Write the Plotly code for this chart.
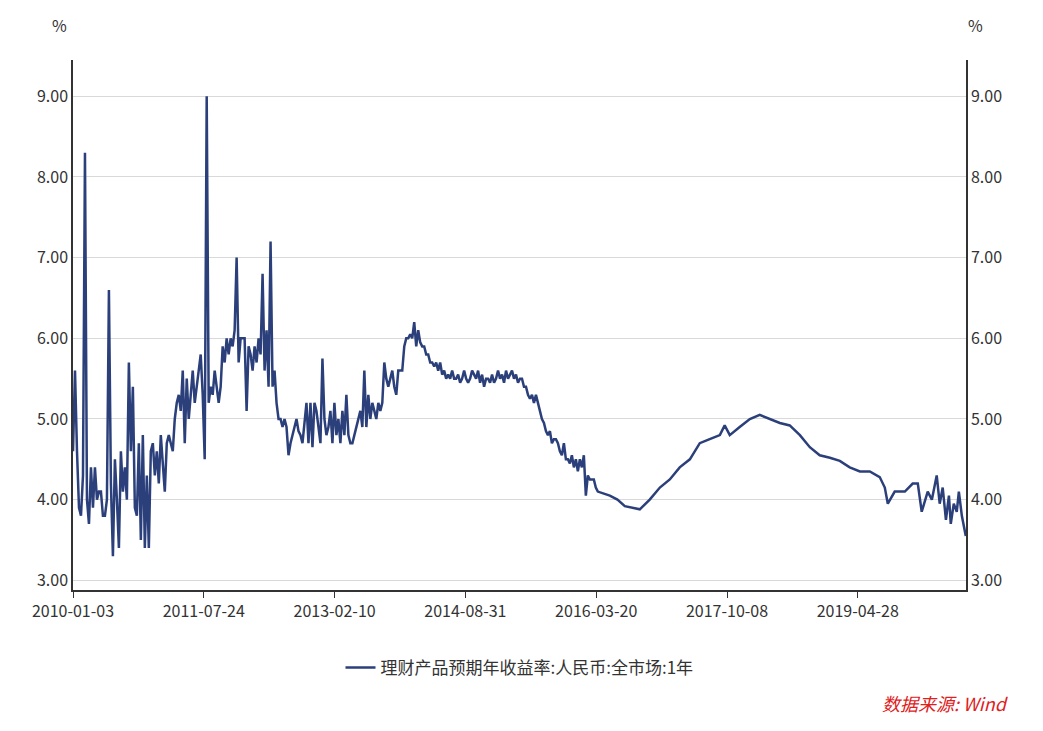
import pandas as pd
import plotly.graph_objects as go

# weekly-ish readings 2010-01-03 .. 2016-03-27, evenly spaced
seg1_vals = [
    4.6, 5.6, 4.6, 3.9, 3.8, 4.3, 8.3, 4.0, 3.7, 4.4, 3.9, 4.4, 4.0, 4.1, 4.1, 3.8, 3.8, 4.0, 6.6, 4.2,
    3.3, 4.5, 4.0, 3.4, 4.6, 4.1, 4.4, 4.0, 5.7, 4.6, 5.4, 3.9, 3.8, 4.7, 3.5, 4.8, 3.4, 4.3, 3.4, 4.6,
    4.7, 4.3, 4.6, 4.2, 4.8, 4.5, 4.1, 4.7, 4.8, 4.7, 4.6, 5.0, 5.2, 5.3, 5.1, 5.6, 4.7, 5.5, 5.0, 5.3,
    5.6, 5.2, 5.4, 5.6, 5.8, 5.3, 4.5, 9.0, 5.2, 5.4, 5.3, 5.6, 5.4, 5.2, 5.4, 5.9, 5.7, 6.0, 5.8, 6.0,
    5.9, 6.1, 7.0, 5.7, 6.0, 6.0, 6.0, 5.1, 5.9, 5.8, 5.6, 5.9, 5.7, 6.0, 5.8, 6.8, 5.6, 6.1, 5.4, 7.2,
    5.4, 5.6, 5.2, 5.0, 5.0, 4.9, 5.0, 4.9, 4.55, 4.7, 4.8, 4.9, 5.0, 4.85, 4.8, 4.7, 5.0, 5.2, 4.7, 5.2,
    4.65, 5.2, 5.1, 4.9, 4.7, 5.75, 5.0, 4.8, 4.9, 5.1, 4.7, 5.2, 4.8, 5.0, 4.7, 5.1, 4.8, 5.3, 4.8, 4.7,
    4.7, 4.8, 4.9, 5.0, 5.1, 4.9, 5.6, 4.9, 5.3, 5.0, 5.2, 5.1, 5.0, 5.2, 5.1, 5.2, 5.7, 5.5, 5.4, 5.5,
    5.6, 5.4, 5.3, 5.6, 5.6, 5.6, 5.9, 6.0, 6.0, 6.05, 6.0, 6.2, 5.9, 6.1, 5.95, 5.9, 5.9, 5.8, 5.8, 5.7,
    5.7, 5.65, 5.7, 5.6, 5.7, 5.55, 5.6, 5.5, 5.55, 5.5, 5.6, 5.5, 5.5, 5.55, 5.45, 5.5, 5.6, 5.5, 5.45, 5.5,
    5.6, 5.55, 5.5, 5.6, 5.45, 5.55, 5.4, 5.5, 5.5, 5.45, 5.55, 5.45, 5.5, 5.6, 5.5, 5.55, 5.45, 5.6, 5.5, 5.55,
    5.6, 5.5, 5.55, 5.45, 5.5, 5.5, 5.4, 5.4, 5.3, 5.25, 5.3, 5.2, 5.3, 5.2, 5.1, 5.0, 4.95, 4.85, 4.8, 4.85,
    4.7, 4.75, 4.75, 4.7, 4.6, 4.55, 4.7, 4.5, 4.5, 4.45, 4.55, 4.4, 4.5, 4.35, 4.5, 4.4, 4.55, 4.05, 4.3, 4.25,
    4.25, 4.25, 4.15, 4.1,
]
seg1_dates = pd.date_range("2010-01-03", "2016-03-27", periods=len(seg1_vals))

seg2_dates = [
    "2016-05-18", "2016-06-20", "2016-07-22", "2016-08-25", "2016-09-25", "2016-11-07", "2016-12-21",
    "2017-02-02", "2017-03-17", "2017-04-30", "2017-06-12", "2017-07-25", "2017-09-07", "2017-09-28",
    "2017-10-20", "2017-12-02", "2018-01-15", "2018-02-27", "2018-04-11", "2018-05-25", "2018-07-07",
    "2018-08-20", "2018-10-02", "2018-11-14", "2018-12-28", "2019-02-09", "2019-03-24", "2019-05-07",
    "2019-06-19", "2019-08-01", "2019-08-23", "2019-09-05", "2019-10-05", "2019-11-18", "2019-12-22",
    "2020-01-13", "2020-01-30", "2020-02-25", "2020-03-14", "2020-04-04", "2020-04-17", "2020-04-30",
    "2020-05-14", "2020-05-27", "2020-06-04", "2020-06-17", "2020-06-30", "2020-07-09", "2020-07-22",
    "2020-08-08",
]
seg2_vals = [
    4.05, 4.0, 3.92, 3.9, 3.88, 4.0, 4.15, 4.25, 4.4, 4.5, 4.7, 4.75, 4.8, 4.92,
    4.8, 4.9, 5.0, 5.05, 5.0, 4.95, 4.92, 4.8, 4.65, 4.55, 4.52, 4.48, 4.4, 4.35,
    4.35, 4.28, 4.15, 3.95, 4.1, 4.1, 4.2, 4.2, 3.85, 4.1, 4.0, 4.3, 3.95, 4.15,
    3.75, 4.05, 3.7, 3.95, 3.85, 4.1, 3.8, 3.55,
]

dates = list(seg1_dates) + list(pd.to_datetime(seg2_dates))
vals = seg1_vals + seg2_vals

tick_dates = ["2010-01-03", "2011-07-24", "2013-02-10", "2014-08-31",
              "2016-03-20", "2017-10-08", "2019-04-28"]
y_ticks = [3, 4, 5, 6, 7, 8, 9]
name = "理财产品预期年收益率:人民币:全市场:1年"
font = "Noto Sans CJK SC"

fig = go.Figure()
fig.add_trace(go.Scatter(x=dates, y=vals, mode="lines", name=name,
                         line=dict(color="#2b3f7a", width=2.5)))
# invisible copy for right axis
fig.add_trace(go.Scatter(x=dates, y=vals, mode="lines", yaxis="y2", showlegend=False,
                         line=dict(width=0), hoverinfo="skip", opacity=0))

axis_y = dict(range=[2.88, 9.45], tickvals=y_ticks, tickformat=".2f",
              showline=True, linecolor="#333", linewidth=1.5, ticks="",
              tickfont=dict(size=16, color="#333"), zeroline=False)
fig.update_layout(
    width=1043, height=731,
    margin=dict(l=65, r=85, t=52, b=149, autoexpand=False),
    plot_bgcolor="white", paper_bgcolor="white",
    font=dict(family=font, color="#333"),
    xaxis=dict(range=["2010-01-03", "2020-08-09"], tickvals=tick_dates, ticktext=tick_dates,
               showgrid=False, showline=True, linecolor="#333", linewidth=1.5,
               ticks="outside", ticklen=6, tickcolor="#333",
               tickfont=dict(size=16, color="#333")),
    yaxis=dict(**axis_y, showgrid=True, gridcolor="#d9d9d9"),
    yaxis2=dict(**axis_y, overlaying="y", side="right", showgrid=False),
    legend=dict(orientation="h", x=0.5, xanchor="center", y=-0.113, yanchor="top",
                font=dict(size=17, color="#333")),
    showlegend=True,
)
fig.add_annotation(text="%", xref="paper", yref="paper", x=-0.005, y=1.04,
                   xanchor="right", yanchor="bottom", showarrow=False, font=dict(size=16))
fig.add_annotation(text="%", xref="paper", yref="paper", x=1.0, y=1.04,
                   xanchor="left", yanchor="bottom", showarrow=False, font=dict(size=16))
fig.add_annotation(text="<i>数据来源: Wind</i>", xref="paper", yref="paper", x=1.05, y=-0.185,
                   xanchor="right", yanchor="top", showarrow=False,
                   font=dict(size=18, color="#e0201b"))
fig.write_html("out.html")
